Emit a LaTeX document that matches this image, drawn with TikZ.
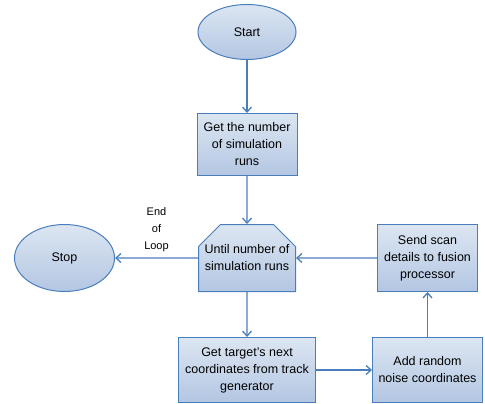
\documentclass[tikz,border=0pt]{standalone}
\usepackage{fontspec}
\setmainfont{Liberation Sans}
\usetikzlibrary{shapes,arrows.meta,positioning}
\definecolor{boxtop}{HTML}{DCE6F2}
\definecolor{boxbot}{HTML}{B3C6E2}
\definecolor{boxline}{HTML}{4A7EBB}

\begin{document}
\begin{tikzpicture}[x=1pt, y=1pt, node distance=45pt, >={Straight Barb[length=5pt,width=9pt]}]
    \tikzstyle{startend} = [draw=boxline, ellipse, top color=boxtop, bottom color=boxbot, line width=1pt, font=\fontsize{12.5}{17}\selectfont, inner sep=0pt]
    \tikzstyle{process}  = [draw=boxline, rectangle, top color=boxtop, bottom color=boxbot, line width=1pt, align=center, font=\fontsize{12.5}{17}\selectfont, inner sep=2pt]
    \tikzstyle{loopbox}  = [process, chamfered rectangle, chamfered rectangle corners={north west,north east}, chamfered rectangle xsep=10pt, chamfered rectangle ysep=12pt, inner xsep=-8pt]
    \tikzstyle{arrow}    = [draw=boxline, line width=1.3pt, ->]

    \useasboundingbox (0,0) rectangle (485,-404);

    % Main Start
    \node [startend, minimum width=98pt, minimum height=55pt] (start) at (247,-32) {Start};
    \node [process, below=53pt of start, minimum width=100pt, minimum height=62pt] (getruns) {Get the number\\of simulation\\runs};

    % Loop
    \node [loopbox, below=48pt of getruns, minimum width=97pt, minimum height=67pt] (loop) {Until number of\\simulation runs};
    \node [startend, left=83pt of loop, minimum width=100pt, minimum height=67pt] (stop) {Stop};

    % Loop body
    \node [process, below=45pt of loop, minimum width=137pt, minimum height=65pt] (getnext) {Get target's next\\coordinates from track\\generator};
    \node [process, right=56pt of getnext, minimum width=110pt, minimum height=65pt] (addnoise) {Add random\\noise coordinates};
    \node [process, above=45pt of addnoise, minimum width=100pt, minimum height=67pt] (sendscan) {Send scan\\details to fusion\\processor};

    % Connections
    \draw [arrow] (start) -- (getruns);
    \draw [arrow] (getruns) -- (loop);
    \draw [arrow] (loop) -- node[above, inner sep=6pt, align=center, font=\fontsize{11}{17}\selectfont] {End\\of\\Loop} (stop);
    \draw [arrow] (loop) -- (getnext);
    \draw [arrow] (getnext) -- (addnoise);
    \draw [arrow] (addnoise) -- (sendscan);
    \draw [arrow] (sendscan) -- (loop);
\end{tikzpicture}
\end{document}
